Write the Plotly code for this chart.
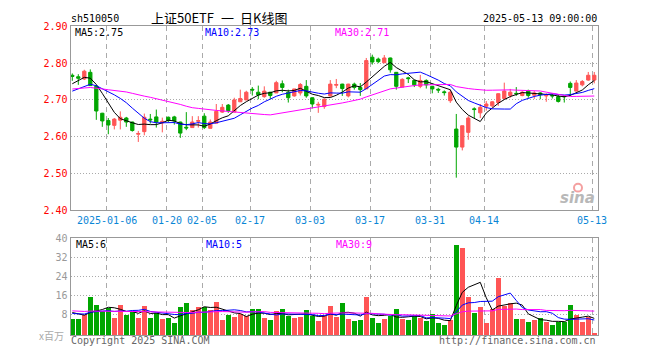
import plotly.graph_objects as go
import pandas as pd

# ---------------- data ----------------
dates = [
    "2024-12-26", "2024-12-27", "2024-12-30", "2024-12-31",
    "2025-01-02", "2025-01-03", "2025-01-06", "2025-01-07", "2025-01-08", "2025-01-09", "2025-01-10",
    "2025-01-13", "2025-01-14", "2025-01-15", "2025-01-16", "2025-01-17",
    "2025-01-20", "2025-01-21", "2025-01-22", "2025-01-23", "2025-01-24", "2025-01-27",
    "2025-02-05", "2025-02-06", "2025-02-07",
    "2025-02-10", "2025-02-11", "2025-02-12", "2025-02-13", "2025-02-14",
    "2025-02-17", "2025-02-18", "2025-02-19", "2025-02-20", "2025-02-21",
    "2025-02-24", "2025-02-25", "2025-02-26", "2025-02-27", "2025-02-28",
    "2025-03-03", "2025-03-04", "2025-03-05", "2025-03-06", "2025-03-07",
    "2025-03-10", "2025-03-11", "2025-03-12", "2025-03-13", "2025-03-14",
    "2025-03-17", "2025-03-18", "2025-03-19", "2025-03-20", "2025-03-21",
    "2025-03-24", "2025-03-25", "2025-03-26", "2025-03-27", "2025-03-28",
    "2025-03-31", "2025-04-01", "2025-04-02", "2025-04-03",
    "2025-04-07", "2025-04-08", "2025-04-09", "2025-04-10", "2025-04-11",
    "2025-04-14", "2025-04-15", "2025-04-16", "2025-04-17", "2025-04-18",
    "2025-04-21", "2025-04-22", "2025-04-23", "2025-04-24", "2025-04-25",
    "2025-04-28", "2025-04-29", "2025-04-30",
    "2025-05-06", "2025-05-07", "2025-05-08", "2025-05-09",
    "2025-05-12", "2025-05-13",
]

open_ = [2.767, 2.763, 2.757, 2.775, 2.737, 2.664, 2.644, 2.631, 2.645, 2.651,
         2.640, 2.607, 2.614, 2.648, 2.654, 2.638, 2.653, 2.654, 2.640, 2.626,
         2.625, 2.642, 2.656, 2.623, 2.637, 2.667, 2.686, 2.667, 2.695, 2.700,
         2.729, 2.721, 2.709, 2.721, 2.719, 2.744, 2.721, 2.711, 2.719, 2.737,
         2.706, 2.686, 2.682, 2.711, 2.740, 2.743, 2.711, 2.743, 2.734, 2.730,
         2.816, 2.811, 2.801, 2.814, 2.775, 2.735, 2.760, 2.753, 2.737, 2.753,
         2.737, 2.729, 2.722, 2.698, 2.621, 2.572, 2.612, 2.676, 2.665, 2.683,
         2.684, 2.693, 2.704, 2.712, 2.718, 2.712, 2.725, 2.713, 2.719, 2.711,
         2.712, 2.709, 2.710, 2.745, 2.724, 2.741, 2.754, 2.754]
high = [2.772, 2.770, 2.782, 2.783, 2.741, 2.665, 2.651, 2.651, 2.669, 2.654,
        2.641, 2.616, 2.663, 2.662, 2.674, 2.652, 2.655, 2.657, 2.641, 2.667,
        2.656, 2.656, 2.664, 2.647, 2.689, 2.689, 2.689, 2.706, 2.728, 2.725,
        2.735, 2.739, 2.737, 2.722, 2.752, 2.753, 2.728, 2.730, 2.746, 2.754,
        2.707, 2.695, 2.704, 2.754, 2.757, 2.744, 2.744, 2.747, 2.746, 2.814,
        2.823, 2.815, 2.822, 2.815, 2.776, 2.759, 2.763, 2.755, 2.768, 2.756,
        2.738, 2.733, 2.726, 2.728, 2.662, 2.630, 2.656, 2.680, 2.689, 2.697,
        2.697, 2.718, 2.747, 2.730, 2.735, 2.724, 2.728, 2.724, 2.721, 2.718,
        2.716, 2.714, 2.713, 2.750, 2.754, 2.754, 2.776, 2.776]
low = [2.752, 2.741, 2.754, 2.738, 2.646, 2.627, 2.607, 2.620, 2.620, 2.627,
       2.614, 2.586, 2.604, 2.636, 2.625, 2.612, 2.640, 2.633, 2.597, 2.618,
       2.625, 2.625, 2.621, 2.623, 2.637, 2.665, 2.665, 2.667, 2.695, 2.700,
       2.712, 2.702, 2.706, 2.702, 2.719, 2.721, 2.693, 2.709, 2.712, 2.706,
       2.677, 2.665, 2.676, 2.709, 2.732, 2.711, 2.707, 2.728, 2.711, 2.730,
       2.796, 2.800, 2.801, 2.774, 2.728, 2.735, 2.746, 2.735, 2.732, 2.731,
       2.718, 2.719, 2.712, 2.692, 2.489, 2.563, 2.592, 2.651, 2.651, 2.671,
       2.680, 2.684, 2.702, 2.706, 2.711, 2.710, 2.706, 2.703, 2.702, 2.695,
       2.704, 2.693, 2.693, 2.711, 2.724, 2.737, 2.752, 2.745]
close = [2.764, 2.759, 2.778, 2.739, 2.670, 2.643, 2.632, 2.648, 2.653, 2.640,
         2.617, 2.609, 2.653, 2.646, 2.640, 2.642, 2.644, 2.643, 2.610, 2.624,
         2.640, 2.644, 2.625, 2.640, 2.669, 2.680, 2.671, 2.700, 2.704, 2.721,
         2.727, 2.714, 2.724, 2.712, 2.747, 2.734, 2.706, 2.730, 2.742, 2.711,
         2.689, 2.688, 2.702, 2.743, 2.742, 2.731, 2.743, 2.734, 2.728, 2.807,
         2.803, 2.804, 2.814, 2.782, 2.737, 2.756, 2.758, 2.741, 2.753, 2.741,
         2.730, 2.727, 2.720, 2.721, 2.572, 2.630, 2.651, 2.674, 2.680, 2.689,
         2.695, 2.717, 2.724, 2.721, 2.717, 2.721, 2.712, 2.719, 2.715, 2.712,
         2.711, 2.696, 2.709, 2.734, 2.746, 2.750, 2.767, 2.767]
# volume, unit: 百万
volume = [6.1, 6.1, 7.7, 15.4, 12.2, 9.4, 10.8, 6.7, 12.2, 7.7,
          9.4, 6.8, 11.8, 6.7, 8.8, 6.1, 6.7, 4.6, 11.4, 13.0,
          9.8, 11.4, 11.1, 9.8, 13.5, 5.7, 7.7, 7.1, 8.4, 7.3,
          10.4, 10.2, 6.7, 5.7, 9.4, 10.4, 7.5, 6.7, 7.1, 9.8,
          7.3, 5.4, 7.3, 11.8, 7.1, 12.7, 6.1, 5.4, 5.7, 15.6,
          6.7, 4.6, 6.1, 7.5, 10.2, 6.1, 5.7, 7.5, 6.7, 5.4,
          8.1, 4.6, 3.7, 5.7, 37.0, 35.8, 15.2, 8.7, 11.1, 4.6,
          10.2, 23.3, 11.5, 13.1, 6.1, 6.1, 5.0, 5.7, 6.7, 5.0,
          3.7, 5.0, 5.0, 12.2, 7.7, 5.0, 7.1, 0.3]

# sessions before the visible window (only feed the moving averages)
prior_close = [2.74, 2.71, 2.70, 2.71, 2.72, 2.70, 2.69, 2.71, 2.72, 2.73,
               2.74, 2.75, 2.74, 2.75, 2.76, 2.74, 2.75, 2.76, 2.77, 2.76,
               2.70, 2.70, 2.69, 2.71, 2.72, 2.72, 2.73, 2.75, 2.756]
prior_volume = [11.2, 9.8, 10.5, 12.3, 9.1, 8.7, 10.9, 11.6, 9.4, 8.8,
                10.2, 12.8, 9.7, 10.3, 8.9, 9.5, 11.0, 9.2, 10.1, 9.0,
                7.9, 8.4, 7.6, 8.3, 8.3, 9.2, 10.1, 9.8, 9.3]

tick_dates = ["2025-01-06", "2025-01-20", "2025-02-05", "2025-02-17", "2025-03-03",
              "2025-03-17", "2025-03-31", "2025-04-14", "2025-05-13"]
tick_labels = ["2025-01-06", "01-20", "02-05", "02-17", "03-03",
               "03-17", "03-31", "04-14", "05-13"]
price_ticks = [2.40, 2.50, 2.60, 2.70, 2.80, 2.90]
vol_ticks = [8, 16, 24, 32, 40]

price_ma_text = ["MA5:2.75", "MA10:2.73", "MA30:2.71"]
vol_ma_text = ["MA5:6", "MA10:5", "MA30:9"]

# ---------------- derived ----------------
n = len(dates)
x = list(range(n))
cs = pd.Series(prior_close + close)
vs = pd.Series(prior_volume + volume)
k = len(prior_close)
ma = {p: cs.rolling(p).mean().iloc[k:].tolist() for p in (5, 10, 30)}
vma = {p: vs.rolling(p).mean().iloc[k:].tolist() for p in (5, 10, 30)}

RED = "#FF5555"
GREEN = "#00A600"
MA_COLORS = {5: "#000000", 10: "#0000FF", 30: "#FF00FF"}
MONO = "DejaVu Sans Mono"
CJK = "Noto Sans CJK SC"

W, H = 660, 360
def px(v):
    return v / W
def py(v):
    return 1 - v / H

tick_pos = [dates.index(d) - 0.3 for d in tick_dates]
vol_colors = [RED if c >= o else GREEN for o, c in zip(open_, close)]
vol_min = -0.65

fig = go.Figure()

fig.add_trace(go.Candlestick(
    x=x, open=open_, high=high, low=low, close=close,
    increasing=dict(line=dict(color=RED, width=1), fillcolor=RED),
    decreasing=dict(line=dict(color=GREEN, width=1), fillcolor=GREEN),
    whiskerwidth=0, xaxis="x", yaxis="y", hoverinfo="skip", showlegend=False,
))
for p in (5, 10, 30):
    fig.add_trace(go.Scatter(x=x, y=ma[p], mode="lines",
                             line=dict(color=MA_COLORS[p], width=1),
                             xaxis="x", yaxis="y", showlegend=False, hoverinfo="skip"))

fig.add_trace(go.Bar(x=x, y=[v - vol_min for v in volume], base=vol_min,
                     marker=dict(color=vol_colors, line=dict(width=0)),
                     width=0.82, xaxis="x2", yaxis="y2", showlegend=False, hoverinfo="skip"))
for p in (5, 10, 30):
    fig.add_trace(go.Scatter(x=x, y=vma[p], mode="lines",
                             line=dict(color=MA_COLORS[p], width=1),
                             xaxis="x2", yaxis="y2", showlegend=False, hoverinfo="skip"))

xdom = [px(70.5), px(598)]
xr = [-0.3, n - 1 + 0.62]
common_x = dict(domain=xdom, range=xr, tickmode="array", tickvals=tick_pos,
                showgrid=True, gridcolor="#AAAAAA", griddash="5px,4px", gridwidth=1,
                showline=True, mirror=True, linecolor="#999999", linewidth=1,
                zeroline=False, ticks="", fixedrange=True, showticklabels=False)

fig.update_layout(
    width=W, height=H, margin=dict(l=0, r=0, t=0, b=0),
    paper_bgcolor="white", plot_bgcolor="white",
    boxgap=0.22, bargap=0,
    xaxis=dict(**common_x, anchor="y", rangeslider=dict(visible=False)),
    xaxis2=dict(**common_x, anchor="y2"),
    yaxis=dict(domain=[py(211.5), py(21)], range=[2.40, 2.90], anchor="x",
               tickmode="array", tickvals=price_ticks,
               ticktext=[f"{t:.2f}" for t in price_ticks],
               tickfont=dict(family=MONO, size=10, color="#FF0000"),
               showgrid=True, gridcolor="#AAAAAA", griddash="1px,2px",
               showline=True, mirror=True, linecolor="#999999", linewidth=1,
               zeroline=False, ticks="", fixedrange=True),
    yaxis2=dict(domain=[py(340.7), py(240.3)], range=[vol_min, 40], anchor="x2",
                tickmode="array", tickvals=vol_ticks,
                ticktext=[str(t) for t in vol_ticks],
                tickfont=dict(family=MONO, size=10, color="#999999"),
                showgrid=True, gridcolor="#AAAAAA", griddash="1px,2px",
                showline=True, mirror=True, linecolor="#999999", linewidth=1,
                zeroline=False, ticks="", fixedrange=True),
)

ann = []
def text(t, xp, yp, color="#000000", size=10, family=MONO, xanchor="left", xref="paper"):
    ann.append(dict(text=t, x=(px(xp) if xref == "paper" else xp), y=py(yp),
                    xref=xref, yref="paper",
                    xanchor=xanchor, yanchor="middle", showarrow=False,
                    font=dict(family=family, size=size, color=color)))

# date labels under the price panel, centred on the dashed grid lines
for pos, lab in zip(tick_pos, tick_labels):
    text(lab, pos, 222, color="#0A86D6", xanchor="center", xref="x")

text("sh510050", 69, 12.5)
text("上证50ETF", 149, 12, size=13, family=CJK)
text("一", 219, 12, size=13, family=CJK)
text("日K线图", 238, 12, size=13, family=CJK)
text("2025-05-13 09:00:00", 599, 12.5, xanchor="right")

for t, xp, p in zip(price_ma_text, [73, 203, 333], (5, 10, 30)):
    text(t, xp, 27, color=MA_COLORS[p])
for t, xp, p in zip(vol_ma_text, [74, 204, 334], (5, 10, 30)):
    text(t, xp, 247, color=MA_COLORS[p])

text("x百万", 66, 341, color="#AAAAAA", size=10, family=CJK, xanchor="right")
text("Copyright 2025 SINA.COM", 69, 346, color="#666666")
text("http://finance.sina.com.cn", 598, 346, color="#666666", xanchor="right")
text("<b><i>sina</i></b>", 597, 199, color="#B8B8B8", size=15, family="DejaVu Sans", xanchor="right")

fig.update_layout(annotations=ann)
fig.add_shape(type="circle", xref="paper", yref="paper",
              x0=px(574), x1=px(582), y0=py(192), y1=py(184),
              line=dict(color="#F4A0A0", width=2), fillcolor="rgba(0,0,0,0)")

fig.write_html("out.html",
               config={"displayModeBar": False, "staticPlot": True},
               post_script="document.body.style.margin='0px';document.body.style.overflow='hidden';")
